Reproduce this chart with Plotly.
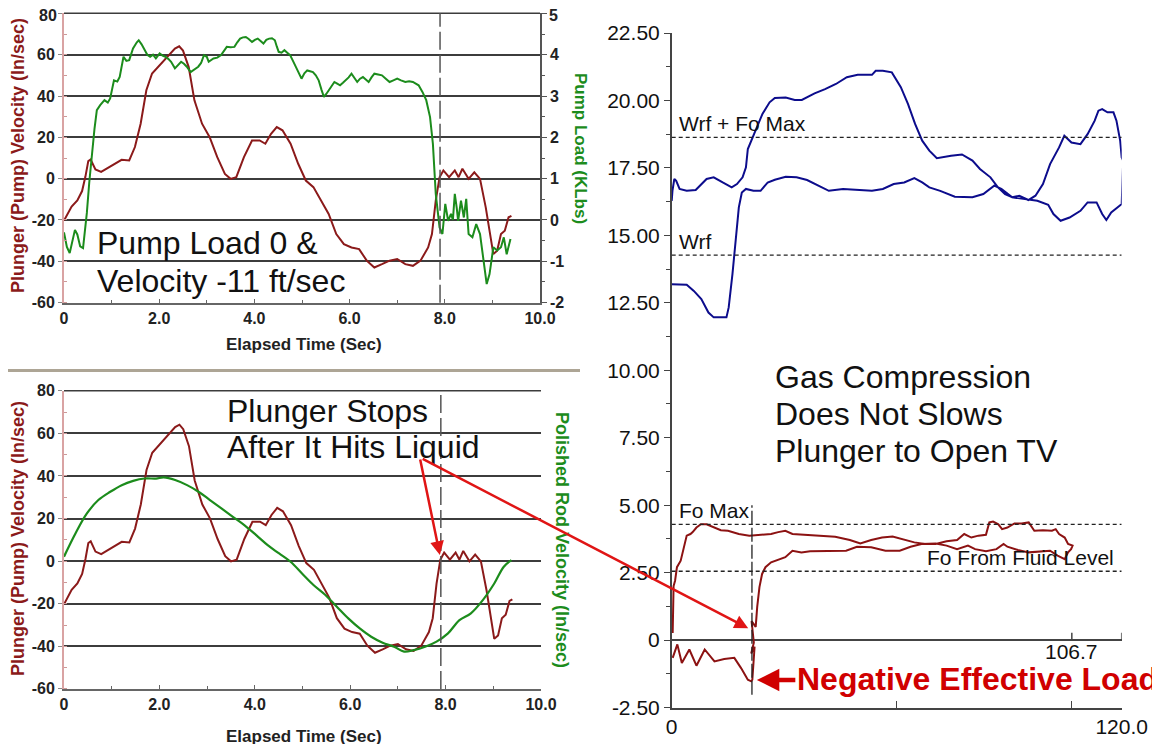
import plotly.graph_objects as go

# ---------------- data ----------------
plunger_time = [0, 0.08, 0.16, 0.28, 0.38, 0.45, 0.51, 0.56, 0.66, 0.78, 0.89,
                1.05, 1.21, 1.37, 1.49, 1.61, 1.73, 1.85, 2.01, 2.17, 2.33,
                2.42, 2.5, 2.62, 2.74, 2.9, 3.06, 3.22, 3.38, 3.5, 3.62,
                3.78, 3.95, 4.11, 4.23, 4.35, 4.47, 4.59, 4.76, 4.92, 5.08,
                5.24, 5.4, 5.56, 5.72, 5.88, 6.04, 6.2, 6.36, 6.52, 6.68,
                6.84, 7.0, 7.17, 7.33, 7.49, 7.65, 7.73, 7.81, 7.89, 7.97,
                8.09, 8.21, 8.29, 8.37, 8.5, 8.62, 8.74, 8.86, 9.02, 9.1,
                9.18, 9.26, 9.34, 9.4]
plunger_velocity = [-20.3, -17, -13.5, -10.5, -6, 1, 8.5, 9.3, 4.5, 3.3, 4.8,
                    7.2, 9.1, 8.8, 15.3, 26.6, 42.8, 50.9, 54.9, 59, 63,
                    64.1, 62, 54, 37.9, 26.6, 20.1, 10.4, 2.3, -0.1, 0.7,
                    10.4, 18.5, 18.5, 16.9, 21.7, 25, 23.4, 16.9, 7.2, -0.9,
                    -4.1, -10.6, -17.1, -26.8, -31.7, -33.3, -34.1, -39.7, -43, -41.4,
                    -39.7, -38.9, -41.4, -42.2, -39.7, -33.3, -26.8, -10.6, 0.7, 4,
                    0.7, 4, 0.7, 4.8, -0.1, 3.1, -0.1, -13.9, -36.5, -34.9,
                    -26.8, -25.2, -18.7, -18]

load_time = [0, 0.06, 0.12, 0.18, 0.23, 0.28, 0.34, 0.4, 0.44, 0.48, 0.53, 0.58,
             0.64, 0.69, 0.76, 0.85, 0.92, 0.97, 1.05, 1.12, 1.17, 1.25, 1.31,
             1.37, 1.45, 1.53, 1.57, 1.63, 1.69, 1.75, 1.81, 1.87, 1.93, 2.01,
             2.07, 2.13, 2.19, 2.25, 2.33, 2.4, 2.46, 2.52, 2.58, 2.66, 2.74,
             2.82, 2.88, 2.94, 3.0, 3.04, 3.14, 3.22, 3.3, 3.36, 3.42, 3.5,
             3.58, 3.64, 3.7, 3.76, 3.82, 3.88, 3.95, 4.01, 4.07, 4.13, 4.19,
             4.25, 4.31, 4.37, 4.43, 4.47, 4.51, 4.57, 4.63, 4.69, 4.75, 4.81,
             4.87, 4.93, 4.99, 5.05, 5.11, 5.17, 5.23, 5.29, 5.35, 5.41, 5.46,
             5.51, 5.56, 5.62, 5.68, 5.74, 5.8, 5.86, 5.92, 5.98, 6.04, 6.1,
             6.16, 6.22, 6.28, 6.34, 6.4, 6.46, 6.52, 6.6, 6.68, 6.76, 6.84,
             6.92, 7.0, 7.08, 7.17, 7.25, 7.33, 7.39, 7.45, 7.53, 7.61, 7.69,
             7.75, 7.81, 7.89, 7.95, 8.01, 8.07, 8.13, 8.17, 8.21, 8.25, 8.28,
             8.34, 8.4, 8.45, 8.5, 8.58, 8.66, 8.74, 8.82, 8.88, 8.94, 9.02,
             9.1, 9.18, 9.24, 9.3, 9.38]
pump_load_klbs = [-0.3, -0.65, -0.8, -0.45, -0.24, -0.35, -0.64, -0.68, -0.3, 0.17, 0.9, 1.54,
                  2.2, 2.66, 2.78, 2.9, 2.84, 2.94, 3.38, 3.35, 3.46, 3.95, 3.85,
                  3.87, 4.15, 4.3, 4.35, 4.25, 4.11, 4.0, 3.95, 4.0, 3.91, 4.03,
                  3.98, 3.95, 3.9, 3.83, 3.67, 3.75, 3.83, 3.78, 3.71, 3.58, 3.65,
                  3.71, 3.8, 3.99, 3.95, 3.83, 3.91, 3.93, 3.99, 4.1, 4.19, 4.18,
                  4.19, 4.3, 4.39, 4.42, 4.43, 4.38, 4.31, 4.36, 4.39, 4.33, 4.27,
                  4.36, 4.39, 4.4, 4.35, 4.2, 4.07, 4.05, 4.11, 4.05, 3.99, 3.85,
                  3.71, 3.55, 3.42, 3.55, 3.62, 3.6, 3.58, 3.5, 3.38, 3.15, 2.98,
                  3.05, 3.14, 3.25, 3.34, 3.3, 3.26, 3.32, 3.38, 3.45, 3.54, 3.45,
                  3.34, 3.42, 3.46, 3.4, 3.34, 3.45, 3.54, 3.52, 3.5, 3.42, 3.34,
                  3.38, 3.42, 3.38, 3.34, 3.36, 3.34, 3.3, 3.26, 3.1, 2.9, 2.49,
                  1.84, 0.63, -0.18, -0.34, 0.39, -0.02, 0.15, 0.0, 0.63, 0.3, -0.02,
                  0.47, 0.06, 0.51, -0.34, -0.42, -0.1, -0.34, -1.07, -1.55, -1.31, -0.66,
                  -0.74, -0.66, -0.42, -0.83, -0.46]

rod_time = [0, 0.24, 0.48, 0.72, 0.97, 1.21, 1.45, 1.69, 1.93, 2.09, 2.33, 2.58,
            2.82, 3.06, 3.3, 3.54, 3.78, 4.03, 4.27, 4.51, 4.75, 4.99, 5.23,
            5.48, 5.72, 5.96, 6.2, 6.44, 6.68, 6.92, 7.13, 7.33, 7.57, 7.81,
            8.05, 8.29, 8.53, 8.78, 9.02, 9.22, 9.38]
polished_rod_velocity = [2.1, 13, 22.4, 28.7, 32.6, 35.7, 37.7, 38.8, 38.8, 39.3, 38.1, 35.7,
                         32.6, 28.7, 24.8, 20.8, 16.9, 12.2, 7.5, 3.6, -0.3, -5.8, -11.2,
                         -15.9, -21.4, -26.9, -31.6, -35.5, -38.3, -40.2, -42.5, -41.8, -40.2, -37.8,
                         -33.9, -27.7, -24.5, -18.3, -10.5, -2.6, 0.5]

surface_position = [0, 4.0, 5.9, 7.9, 9.8, 11.2, 14.6, 15.2, 16.2, 17.0, 17.9, 18.7,
                    19.8, 21.8, 23.7, 25.6, 27.5, 30.4, 33.3, 36.1, 39.0, 41.9, 45.7,
                    49.6, 53.4, 56.3, 59.2, 62.0, 64.7, 66.8, 68.7, 71.6, 75.5, 80.2,
                    83.1, 86.0, 87.9, 90.8, 94.6, 97.5, 100.4, 101.8, 103.7, 106.1, 109.0,
                    110.9, 113.3, 114.8, 115.9, 117.2, 119.1, 120.0, 120.4,
                    120.0, 119.6, 118.6, 117.8, 116.2, 114.8, 113.8, 112.8, 110.9, 109.0,
                    106.6, 104.7, 103.3, 100.9, 99.0, 97.0, 95.1, 92.7, 90.8, 88.9,
                    87.0, 85.0, 82.2, 80.2, 77.4, 74.5, 70.7, 68.7, 66.8, 64.9,
                    63.0, 61.1, 58.7, 56.3, 54.4, 53.4, 49.6, 46.7, 43.8, 40.9,
                    38.1, 34.7, 32.8, 30.4, 27.5, 26.1, 24.2, 22.7, 21.3, 20.3,
                    19.8, 18.9, 17.4, 16.0, 13.6, 11.2, 9.3, 6.4, 4.0, 2.1,
                    1.2, 0.7, 0.2, 0.0]
surface_load = [13.19, 13.17, 12.94, 12.64, 12.14, 11.96, 11.96, 12.33, 13.56, 14.8, 16.04, 16.59,
                16.72, 16.65, 16.65, 16.96, 17.06, 17.17, 17.15, 17.05, 16.84, 16.65, 16.72,
                16.68, 16.65, 16.72, 16.9, 16.96, 17.12, 16.96, 16.78, 16.65, 16.43, 16.41,
                16.53, 16.84, 16.72, 16.41, 16.34, 16.28, 16.13, 15.79, 15.54, 15.66, 15.91,
                16.22, 16.22, 15.79, 15.57, 15.85, 16.06, 16.16, 17.77,
                17.89, 18.5, 19.25, 19.56, 19.56, 19.68, 19.62, 19.25, 18.75, 18.38,
                18.44, 18.69, 18.26, 17.64, 16.9, 16.47, 16.31, 16.47, 16.41, 16.53,
                16.78, 17.15, 17.46, 17.77, 18.0, 17.95, 17.86, 18.14, 18.51, 19.13,
                19.87, 20.49, 21.04, 21.1, 21.1, 20.95, 20.95, 20.86, 20.61, 20.42,
                20.26, 20.02, 20.02, 20.11, 20.09, 19.93, 19.5, 19.0, 18.51, 18.2,
                17.52, 17.15, 16.9, 16.78, 16.96, 17.15, 17.09, 16.68, 16.65, 16.72,
                17.02, 17.09, 16.65, 16.28]

pump_position = [0.26, 0.35, 0.5, 0.9, 1.4, 2.4, 3.2, 4.0, 5.0, 5.6, 6.6, 7.8, 9.3,
                 11.2, 13.1, 15.0, 17.9, 20.7, 23.6, 26.5, 28.4, 30.3, 32.2, 36.0,
                 39.8, 43.6, 47.5, 50.3, 53.2, 56.1, 58.9, 61.8, 64.7, 67.5, 70.4,
                 73.3, 76.1, 78.0, 79.9, 81.8, 83.8, 84.7, 85.7, 87.1, 88.1, 89.5,
                 91.4, 93.3, 95.2, 96.7, 99.0, 101.4, 102.4, 103.3, 104.8, 105.7, 106.9,
                 106.5, 105.7, 104.8, 102.9, 100.9, 98.1, 95.2, 92.3, 89.5, 88.5,
                 86.6, 83.8, 80.9, 79.0, 76.1, 73.3, 70.4, 66.6, 63.7, 60.8,
                 57.0, 53.2, 49.4, 46.5, 42.7, 39.8, 36.9, 34.6, 32.2, 30.3,
                 28.4, 26.5, 25.0, 24.1, 23.4, 22.8, 22.4, 21.3, 21.9, 21.2,
                 22.1, 21.7, 21.5, 21.2, 20.3, 18.5, 16.7, 14.0, 11.4, 8.8,
                 6.6, 4.7, 2.7, 1.5, 0.26]
pump_card_load = [0.26, 1.6, 2.0, 2.2, 2.7, 2.94, 3.44, 3.87, 3.93, 4.0, 4.17, 4.29, 4.29,
                  4.17, 4.07, 4.05, 3.93, 3.87, 3.9, 3.93, 4.0, 4.05, 3.93, 3.9,
                  3.87, 3.83, 3.71, 3.58, 3.71, 3.8, 3.84, 3.74, 3.62, 3.56, 3.56,
                  3.66, 3.71, 3.93, 3.8, 3.87, 3.9, 4.36, 4.39, 4.29, 4.11, 4.17,
                  4.32, 4.32, 4.36, 4.05, 4.07, 4.05, 4.11, 3.93, 3.8, 3.56, 3.5,
                  3.37, 3.25, 3.0, 3.13, 3.31, 3.29, 3.25, 3.34, 3.46, 3.56,
                  3.37, 3.29, 3.37, 3.5, 3.37, 3.5, 3.58, 3.56, 3.46, 3.31,
                  3.31, 3.44, 3.46, 3.31, 3.31, 3.29, 3.29, 3.25, 3.31, 3.07,
                  2.98, 2.88, 2.7, 2.45, 1.96, 1.23, 0.49, 0.7, -0.1, -0.5,
                  -0.25, -0.98, -1.47, -1.53, -1.47, -1.04, -0.66, -0.7, -0.79, -0.35,
                  -0.95, -0.35, -0.85, -0.16, -0.66]

time_ticks = [0, 2, 4, 6, 8, 10]
time_tick_labels = ["0", "2.0", "4.0", "6.0", "8.0", "10.0"]
velocity_ticks = [-60, -40, -20, 0, 20, 40, 60, 80]
load_ticks = [-2, -1, 0, 1, 2, 3, 4, 5]
card_load_ticks = [-2.5, 0, 2.5, 5, 7.5, 10, 12.5, 15, 17.5, 20, 22.5]
card_load_labels = ["-2.50", "0", "2.50", "5.00", "7.50", "10.00", "12.50",
                    "15.00", "17.50", "20.00", "22.50"]
card_pos_ticks = [0, 60, 106.7, 120]
card_pos_labels = ["0", "", "", "120.0"]
stroke_length = 106.7
ref_names = ["Wrf + Fo Max", "Wrf", "Fo Max", "Fo From Fluid Level"]
ref_values = [18.63, 14.27, 4.29, 2.55]
event_time = 7.9
card_event_position = 21.4

# ---------------- layout helpers ----------------
W, H = 1160, 744
PAGE_OFFSET = 8  # browser body margin around the plot div


def fx(p):
    return (p - PAGE_OFFSET) / W


def fy(p):
    return 1 - (p - PAGE_OFFSET) / H


RED = "#8b1a1a"
GREEN = "#1c8c1c"
BLUE = "#0c0c8c"
CARD_RED = "#8c1212"
ARROW_RED = "#e01515"

TL_X = [fx(64), fx(540)]
TL_Y = [fy(302.7), fy(13.3)]
BL_X = [fx(64), fx(541)]
BL_Y = [fy(689), fy(390.7)]
R_X = [fx(671.7), fx(1121.7)]
R_Y = [fy(707.5), fy(33)]

PAD = 0.05
vel_range = [-60 - PAD, 80 + PAD]
load_range = [-2 - PAD / 20, 5 + PAD / 20]

fig = go.Figure()

fig.add_trace(go.Scatter(x=load_time, y=pump_load_klbs, xaxis="x", yaxis="y2",
                         mode="lines", line=dict(color=GREEN, width=2), hoverinfo="skip"))
fig.add_trace(go.Scatter(x=plunger_time, y=plunger_velocity, xaxis="x", yaxis="y",
                         mode="lines", line=dict(color=RED, width=2), hoverinfo="skip"))
fig.add_trace(go.Scatter(x=plunger_time, y=plunger_velocity, xaxis="x2", yaxis="y3",
                         mode="lines", line=dict(color=RED, width=2), hoverinfo="skip"))
fig.add_trace(go.Scatter(x=rod_time, y=polished_rod_velocity, xaxis="x2", yaxis="y3",
                         mode="lines", line=dict(color=GREEN, width=2.2, shape="spline"),
                         hoverinfo="skip"))
fig.add_trace(go.Scatter(x=surface_position, y=surface_load, xaxis="x3", yaxis="y4",
                         mode="lines", line=dict(color=BLUE, width=2), hoverinfo="skip"))
fig.add_trace(go.Scatter(x=pump_position, y=pump_card_load, xaxis="x3", yaxis="y4",
                         mode="lines", line=dict(color=CARD_RED, width=2), hoverinfo="skip"))

tick_bold = dict(family="Arial", size=16, color="#222", weight="bold")
tick_card = dict(family="Arial", size=21, color="#111")


def time_axis(domain, anchor):
    return dict(domain=domain, anchor=anchor, range=[0, 10], tickvals=time_ticks,
                ticktext=time_tick_labels, showline=True, linecolor="#666", linewidth=1.5,
                ticks="inside", ticklen=4, tickcolor="#666", tickfont=tick_bold,
                showgrid=False, zeroline=False, automargin=False, fixedrange=True,
                ticklabeloverflow="allow",
                minor=dict(dtick=1, ticks="inside", ticklen=3, tickcolor="#666"))


def vel_axis(domain, anchor, top_label=True):
    labels = [str(v) for v in velocity_ticks]
    if not top_label:
        labels[-1] = ""
    return dict(domain=domain, anchor=anchor, range=vel_range, tickvals=velocity_ticks,
                ticktext=labels,
                showgrid=True, gridcolor="#3c3c3c", gridwidth=1.5,
                showline=True, linecolor="#d9a3a3", linewidth=2,
                ticks="outside", ticklen=4, tickcolor="#888", tickfont=tick_bold,
                zeroline=False, automargin=False, fixedrange=True, ticklabeloverflow="allow",
                minor=dict(dtick=10, ticks="inside", ticklen=3, tickcolor="#c99"))


load_labels = [str(v) for v in load_ticks]
load_labels[-1] = ""  # drawn as annotation, slightly lower, so it is not clipped

fig.update_layout(
    width=W, height=H, margin=dict(l=0, r=0, t=0, b=0),
    paper_bgcolor="white", plot_bgcolor="white", showlegend=False,
    font=dict(family="Arial", color="#111"),
    xaxis=time_axis(TL_X, "y"),
    yaxis=vel_axis(TL_Y, "x", top_label=False),
    yaxis2=dict(overlaying="y", side="right", anchor="x", range=load_range, tickvals=load_ticks,
                ticktext=load_labels,
                showgrid=False, zeroline=False, showline=True, linecolor="#555", linewidth=1.5,
                ticks="outside", ticklen=5, tickcolor="#555", tickfont=tick_bold,
                automargin=False, fixedrange=True, ticklabeloverflow="allow",
                minor=dict(dtick=0.5, ticks="outside", ticklen=3, tickcolor="#555")),
    xaxis2=time_axis(BL_X, "y3"),
    yaxis3=vel_axis(BL_Y, "x2"),
    xaxis3=dict(domain=R_X, anchor="y4", range=[0, 120], tickvals=card_pos_ticks,
                ticktext=card_pos_labels, showline=True, linecolor="#444", linewidth=1.5,
                ticks="inside", ticklen=7, tickcolor="#444", tickfont=tick_card,
                showgrid=False, zeroline=False, automargin=False, fixedrange=True,
                ticklabeloverflow="allow"),
    yaxis4=dict(domain=R_Y, anchor="x3", range=[-2.5, 22.5], tickvals=card_load_ticks,
                ticktext=card_load_labels, showline=True, linecolor="#444", linewidth=1.5,
                ticks="outside", ticklen=6, tickcolor="#444", tickfont=tick_card,
                showgrid=False, zeroline=True, zerolinecolor="#444", zerolinewidth=1.5,
                automargin=False, fixedrange=True, ticklabeloverflow="allow",
                minor=dict(dtick=1.25, ticks="outside", ticklen=4, tickcolor="#444")),
)

shapes = []
for xd, yd in [(TL_X, TL_Y), (BL_X, BL_Y)]:
    shapes.append(dict(type="line", xref="paper", yref="paper", x0=xd[0], x1=xd[1],
                       y0=yd[1], y1=yd[1], line=dict(color="#3c3c3c", width=1.5)))
for xr, yr in [("x", "y domain"), ("x2", "y3 domain")]:
    shapes.append(dict(type="line", xref=xr, yref=yr, x0=event_time, x1=event_time, y0=0, y1=1,
                       line=dict(color="#555", width=1.5, dash="18px,5px")))
for v in ref_values:
    shapes.append(dict(type="line", xref="x3", yref="y4", x0=0, x1=120, y0=v, y1=v,
                       line=dict(color="#222", width=1.3, dash="4px,3px")))
shapes.append(dict(type="line", xref="x3", yref="y4", x0=card_event_position, x1=card_event_position,
                   y0=-2.03, y1=5.0, line=dict(color="#222", width=1.3, dash="14px,3px")))
for xv in [stroke_length, 120]:
    shapes.append(dict(type="line", xref="x3", yref="y4", x0=xv, x1=xv, y0=0, y1=0.27,
                       line=dict(color="#444", width=1.5)))
shapes.append(dict(type="line", xref="paper", yref="paper", x0=fx(5), x1=fx(580),
                   y0=fy(370.5), y1=fy(370.5), line=dict(color="#ada595", width=3)))
fig.update_layout(shapes=shapes)

ann = []


def txt(text, x, y, size, color="#111", bold=False, angle=0, xanchor="center",
        yanchor="middle", xref="paper", yref="paper", yshift=0):
    f = dict(family="Arial", size=size, color=color)
    if bold:
        f["weight"] = "bold"
    ann.append(dict(text=text, x=x, y=y, xref=xref, yref=yref, showarrow=False, textangle=angle,
                    xanchor=xanchor, yanchor=yanchor, font=f, yshift=yshift))


# top tick labels of the upper chart
txt(str(velocity_ticks[-1]), fx(59), fy(15.5), 16, "#222", True, xanchor="right")
txt(str(load_ticks[-1]), fx(547), fy(15.5), 16, "#222", True, xanchor="left")

txt("Plunger (Pump) Velocity (In/sec)", fx(17.5), fy(155.5), 18, RED, True, -90)
txt("Pump Load (KLbs)", fx(580.5), fy(148.5), 17, GREEN, True, 90)
txt("Elapsed Time (Sec)", fx(304), fy(345), 17, "#222", True)
txt("Plunger (Pump) Velocity (In/sec)", fx(17.5), fy(538.5), 18, RED, True, -90)
txt("Polished Rod Velocity (In/sec)", fx(562.5), fy(539.5), 18, GREEN, True, 90)
txt("Elapsed Time (Sec)", fx(304), fy(736), 17, "#222", True)

txt("Pump Load 0 &", fx(95), fy(243), 32, xanchor="left")
txt("Velocity -11 ft/sec", fx(95), fy(281), 32, xanchor="left")
txt("Plunger Stops", fx(225), fy(411), 32, xanchor="left")
txt("After It Hits Liquid", fx(225), fy(447), 32, xanchor="left")
txt("Gas Compression", fx(773), fy(377), 32, xanchor="left")
txt("Does Not Slows", fx(773), fy(414), 32, xanchor="left")
txt("Plunger to Open TV", fx(773), fy(451), 32, xanchor="left")
txt("Negative Effective Load", fx(795), fy(679), 32, "#d00000", True, xanchor="left")

for name, v in zip(ref_names, ref_values):
    if name == "Fo From Fluid Level":
        txt(name, 118.6, v, 21, xanchor="right", yanchor="bottom", xref="x3", yref="y4")
    else:
        txt(name, 1.5, v, 21, xanchor="left", yanchor="bottom", xref="x3", yref="y4")

txt(f"{stroke_length}", stroke_length, 0, 21, xanchor="center", yanchor="top",
    xref="x3", yref="y4", yshift=2)

ann.append(dict(x=7.88, y=2.9, xref="x2", yref="y3", ax=-20, ay=-97, axref="pixel", ayref="pixel",
                text="", showarrow=True, arrowhead=2, arrowsize=1.1, arrowwidth=2.5, arrowcolor=ARROW_RED))
ann.append(dict(x=20.4, y=0.44, xref="x3", yref="y4", ax=-327, ay=-170, axref="pixel", ayref="pixel",
                text="", showarrow=True, arrowhead=2, arrowsize=1.1, arrowwidth=2.5, arrowcolor=ARROW_RED))
ann.append(dict(x=22.7, y=-1.48, xref="x3", yref="y4", ax=40, ay=0, axref="pixel", ayref="pixel",
                text="", showarrow=True, arrowhead=2, arrowsize=1.0, arrowwidth=4.5, arrowcolor="#d00000"))
fig.update_layout(annotations=ann)

fig.write_html("out.html")
